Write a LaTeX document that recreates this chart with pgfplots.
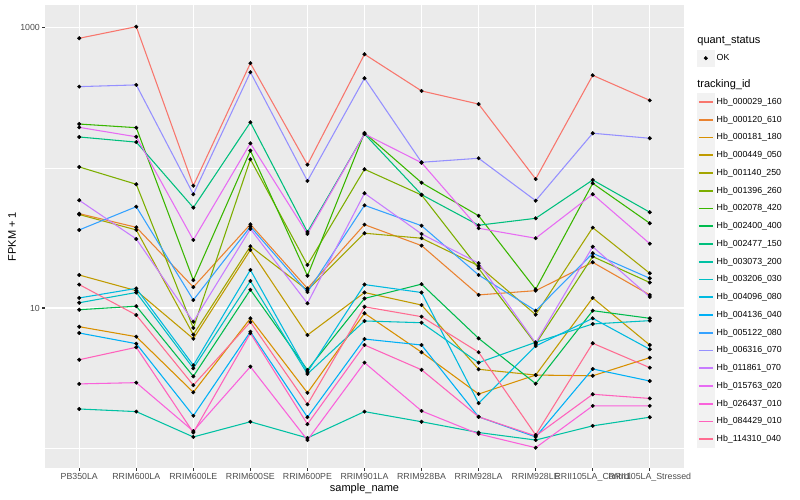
\documentclass[border=0pt]{standalone}
\usepackage{fontspec}
\setmainfont{Liberation Sans}
\usepackage{pgfplots}
\usepackage{pgfplotstable}
\pgfplotsset{compat=1.18}

\definecolor{panel}{HTML}{EBEBEB}
\definecolor{keybg}{HTML}{F2F2F2}
\definecolor{tickc}{HTML}{333333}
\definecolor{labc}{HTML}{4D4D4D}
\definecolor{c1}{HTML}{F8766D}
\definecolor{c2}{HTML}{EA8331}
\definecolor{c3}{HTML}{D89000}
\definecolor{c4}{HTML}{C09B00}
\definecolor{c5}{HTML}{A3A500}
\definecolor{c6}{HTML}{7CAE00}
\definecolor{c7}{HTML}{39B600}
\definecolor{c8}{HTML}{00BB4E}
\definecolor{c9}{HTML}{00BF7D}
\definecolor{c10}{HTML}{00C1A3}
\definecolor{c11}{HTML}{00BFC4}
\definecolor{c12}{HTML}{00BAE0}
\definecolor{c13}{HTML}{00B0F6}
\definecolor{c14}{HTML}{35A2FF}
\definecolor{c15}{HTML}{9590FF}
\definecolor{c16}{HTML}{C77CFF}
\definecolor{c17}{HTML}{E76BF3}
\definecolor{c18}{HTML}{FA62DB}
\definecolor{c19}{HTML}{FF62BC}
\definecolor{c20}{HTML}{FF6C91}

% FPKM + 1 per sample (rows) and tracking id (columns s1..s20)
\pgfplotstableread{
x  s1    s2   s3   s4   s5   s6    s7  s8   s9    s10  s11  s12  s13  s14  s15   s16  s17 s18   s19  s20
0  844   47.2 7.35 17.2 46.5 101.7 206 9.72 166.5 1.90 10.9 11.8 6.63 36.1 381   58.8 195 2.87  4.27 14.7
1  1021  37.7 6.24 13.3 36.1 76.5  194 10.3 153   1.82 12.9 13.8 5.56 52.9 392   31.1 167 2.93  5.24 8.91
2  74.7  14.1 2.50 6.03 6.45 7.20  15.8 3.25 52.1 1.20 3.71 3.90 1.70 11.4 64.9  7.98 30.6 1.32 1.29 2.81
3  560   39.6 8.44 26.0 27.6 115.4 133 13.5 212   1.54 15.6 18.7 6.77 38.1 483   36.7 150 3.81  6.60 7.94
4  105.6 13.8 2.48 6.41 13.4 20.3  17.0 3.61 34.9 1.18 3.38 3.49 1.66 13.0 80.8  10.8 33.8 1.14 1.48 2.05
5  649   39.4 9.17 12.9 34.2 97.9  178 11.7 175   1.82 8.08 14.7 6.00 54.1 437   66.0 175 4.07  5.44 10.2
6  355   27.9 4.83 10.5 31.5 64.1  78.5 14.8 64.5 1.54 7.85 12.9 5.44 38.7 109.8 33.8 109 1.84  3.62 8.67
7  286   12.4 2.43 3.65 20.0 19.2  45.6 6.07 39.0 1.29 4.07 2.09 1.67 17.2 117.3 20.9 37.1 1.26 1.67 4.83
8  83.4  13.3 3.32 3.32 8.96 5.53  13.6 2.88 43.7 1.14 5.69 5.35 1.20 9.57 58.4  5.62 31.5 1.005 1.22 1.24
9  459   21.2 3.28 11.8 37.5 23.3  77.7 9.57 82.1 1.44 7.69 8.44 3.67 24.6 177   27.4 64.9 2.00 2.42 5.60
10 304   12.4 4.42 5.44 17.7 15.2  40.3 8.44 48.3 1.66 8.12 5.07 3.01 16.3 163   12.0 28.8 2.00 2.26 3.75
}\fpkm

\begin{document}
\begin{tikzpicture}
\useasboundingbox (0pt,0pt) rectangle (800pt,500pt);
\begin{axis}[
  at={(45pt,32pt)}, anchor=south west,
  scale only axis, width=639pt, height=463pt,
  ymode=log, ymin=0.72, ymax=1459,
  xmin=-0.6, xmax=10.6,
  axis background/.style={fill=panel},
  axis line style={draw=none},
  tick pos=left, tick align=outside,
  major tick length=2.75pt, minor tick length=0pt,
  tick style={tickc, line width=1.07pt},
  xtick={0,...,10},
  xticklabels={PB350LA,RRIM600LA,RRIM600LE,RRIM600SE,RRIM600PE,RRIM901LA,RRIM928BA,RRIM928LA,RRIM928LE,RRII105LA\_Control,RRII105LA\_Stressed},
  ytick={10,1000}, yticklabels={10,1000},
  minor ytick={1,100},
  xmajorgrids, ymajorgrids, yminorgrids,
  major grid style={white, line width=1.07pt},
  minor grid style={white, line width=0.53pt},
  ticklabel style={font=\fontsize{8.8}{10}\selectfont, labc},
  xticklabel style={inner sep=0pt, yshift=-2.2pt},
  yticklabel style={inner sep=0pt, xshift=-2.2pt},
  xlabel={sample\_name}, ylabel={FPKM + 1},
  label style={font=\fontsize{11}{13}\selectfont},
  xlabel style={at={(axis description cs:0.5,-0.0443)}, anchor=center},
  ylabel style={at={(axis description cs:-0.0516,0.5)}, anchor=center},
  legend style={at={(1.0199,0.9415)}, anchor=north west, draw=none, fill=none,
    inner sep=0pt, row sep=0pt, font=\fontsize{8.8}{10}\selectfont},
  legend cell align=left,
  legend image code/.code={%
    \path[draw=none, fill=none] (0pt,-8.64pt) rectangle (17.28pt,8.64pt);
    \fill[keybg] (0.3pt,-8.34pt) rectangle (16.98pt,8.34pt);
    \draw[line width=1.6pt] (1.7pt,0pt) -- (15.6pt,0pt);},
]
\addlegendimage{legend image code/.code={\path[draw=none, fill=none] (0pt,-8.64pt) rectangle (17.28pt,8.64pt);}}
\addlegendentry{\fontsize{11}{13}\selectfont\hspace*{-19.28pt}quant\_status}
\addlegendimage{legend image code/.code={%
    \path[draw=none, fill=none] (0pt,-8.64pt) rectangle (17.28pt,8.64pt);
    \fill[keybg] (0.3pt,-8.34pt) rectangle (16.98pt,8.34pt);
    \draw[black, mark=*, mark size=1.8pt] plot coordinates {(8.64pt,0pt)};}}
\addlegendentry{OK}
\addlegendimage{legend image code/.code={\path[draw=none, fill=none] (0pt,-8.64pt) rectangle (17.28pt,17.68pt);}}
\addlegendentry{\fontsize{11}{13}\selectfont\hspace*{-19.28pt}tracking\_id}

\addplot[c1, line width=1.07pt] table[x=x, y=s1] {\fpkm}; \addlegendentry{Hb\_000029\_160}
\addplot[c2, line width=1.07pt] table[x=x, y=s2] {\fpkm}; \addlegendentry{Hb\_000120\_610}
\addplot[c3, line width=1.07pt] table[x=x, y=s3] {\fpkm}; \addlegendentry{Hb\_000181\_180}
\addplot[c4, line width=1.07pt] table[x=x, y=s4] {\fpkm}; \addlegendentry{Hb\_000449\_050}
\addplot[c5, line width=1.07pt] table[x=x, y=s5] {\fpkm}; \addlegendentry{Hb\_001140\_250}
\addplot[c6, line width=1.07pt] table[x=x, y=s6] {\fpkm}; \addlegendentry{Hb\_001396\_260}
\addplot[c7, line width=1.07pt] table[x=x, y=s7] {\fpkm}; \addlegendentry{Hb\_002078\_420}
\addplot[c8, line width=1.07pt] table[x=x, y=s8] {\fpkm}; \addlegendentry{Hb\_002400\_400}
\addplot[c9, line width=1.07pt] table[x=x, y=s9] {\fpkm}; \addlegendentry{Hb\_002477\_150}
\addplot[c10, line width=1.07pt] table[x=x, y=s10] {\fpkm}; \addlegendentry{Hb\_003073\_200}
\addplot[c11, line width=1.07pt] table[x=x, y=s11] {\fpkm}; \addlegendentry{Hb\_003206\_030}
\addplot[c12, line width=1.07pt] table[x=x, y=s12] {\fpkm}; \addlegendentry{Hb\_004096\_080}
\addplot[c13, line width=1.07pt] table[x=x, y=s13] {\fpkm}; \addlegendentry{Hb\_004136\_040}
\addplot[c14, line width=1.07pt] table[x=x, y=s14] {\fpkm}; \addlegendentry{Hb\_005122\_080}
\addplot[c15, line width=1.07pt] table[x=x, y=s15] {\fpkm}; \addlegendentry{Hb\_006316\_070}
\addplot[c16, line width=1.07pt] table[x=x, y=s16] {\fpkm}; \addlegendentry{Hb\_011861\_070}
\addplot[c17, line width=1.07pt] table[x=x, y=s17] {\fpkm}; \addlegendentry{Hb\_015763\_020}
\addplot[c18, line width=1.07pt] table[x=x, y=s18] {\fpkm}; \addlegendentry{Hb\_026437\_010}
\addplot[c19, line width=1.07pt] table[x=x, y=s19] {\fpkm}; \addlegendentry{Hb\_084429\_010}
\addplot[c20, line width=1.07pt] table[x=x, y=s20] {\fpkm}; \addlegendentry{Hb\_114310\_040}

% points on top of all lines
\pgfplotsinvokeforeach{1,...,20}{
  \addplot[forget plot, only marks, mark=*, mark size=1.8pt, black] table[x=x, y=s#1] {\fpkm};
}
\end{axis}
\end{tikzpicture}
\end{document}
